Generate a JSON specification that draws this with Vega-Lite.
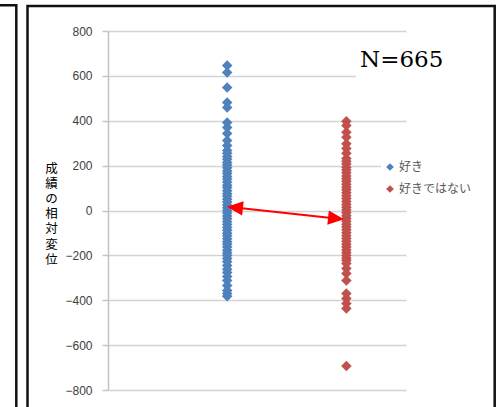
{
  "$schema": "https://vega.github.io/schema/vega-lite/v6.json",
  "width": 298,
  "height": 359,
  "autosize": {"type": "none"},
  "padding": {"left": 108, "top": 31, "right": 94, "bottom": 17},
  "background": "white",
  "config": {"view": {"stroke": null}, "font": "Liberation Sans"},
  "datasets": {
    "pts": [
      {"group": "好き", "x": 1, "value": 646},
      {"group": "好き", "x": 1, "value": 615},
      {"group": "好き", "x": 1, "value": 548},
      {"group": "好き", "x": 1, "value": 481},
      {"group": "好き", "x": 1, "value": 459},
      {"group": "好き", "x": 1, "value": 392},
      {"group": "好き", "x": 1, "value": 370},
      {"group": "好き", "x": 1, "value": 343},
      {"group": "好き", "x": 1, "value": 312},
      {"group": "好き", "x": 1, "value": 290},
      {"group": "好き", "x": 1, "value": 267},
      {"group": "好き", "x": 1, "value": 255},
      {"group": "好き", "x": 1, "value": 241},
      {"group": "好き", "x": 1, "value": 228},
      {"group": "好き", "x": 1, "value": 214},
      {"group": "好き", "x": 1, "value": 203},
      {"group": "好き", "x": 1, "value": 190},
      {"group": "好き", "x": 1, "value": 176},
      {"group": "好き", "x": 1, "value": 165},
      {"group": "好き", "x": 1, "value": 151},
      {"group": "好き", "x": 1, "value": 140},
      {"group": "好き", "x": 1, "value": 127},
      {"group": "好き", "x": 1, "value": 113},
      {"group": "好き", "x": 1, "value": 102},
      {"group": "好き", "x": 1, "value": 88},
      {"group": "好き", "x": 1, "value": 75},
      {"group": "好き", "x": 1, "value": 63},
      {"group": "好き", "x": 1, "value": 50},
      {"group": "好き", "x": 1, "value": 38},
      {"group": "好き", "x": 1, "value": 24},
      {"group": "好き", "x": 1, "value": 12},
      {"group": "好き", "x": 1, "value": 0},
      {"group": "好き", "x": 1, "value": -11},
      {"group": "好き", "x": 1, "value": -25},
      {"group": "好き", "x": 1, "value": -37},
      {"group": "好き", "x": 1, "value": -50},
      {"group": "好き", "x": 1, "value": -62},
      {"group": "好き", "x": 1, "value": -76},
      {"group": "好き", "x": 1, "value": -88},
      {"group": "好き", "x": 1, "value": -101},
      {"group": "好き", "x": 1, "value": -113},
      {"group": "好き", "x": 1, "value": -126},
      {"group": "好き", "x": 1, "value": -139},
      {"group": "好き", "x": 1, "value": -150},
      {"group": "好き", "x": 1, "value": -163},
      {"group": "好き", "x": 1, "value": -177},
      {"group": "好き", "x": 1, "value": -189},
      {"group": "好き", "x": 1, "value": -200},
      {"group": "好き", "x": 1, "value": -214},
      {"group": "好き", "x": 1, "value": -228},
      {"group": "好き", "x": 1, "value": -245},
      {"group": "好き", "x": 1, "value": -262},
      {"group": "好き", "x": 1, "value": -276},
      {"group": "好き", "x": 1, "value": -294},
      {"group": "好き", "x": 1, "value": -312},
      {"group": "好き", "x": 1, "value": -334},
      {"group": "好き", "x": 1, "value": -356},
      {"group": "好き", "x": 1, "value": -370},
      {"group": "好き", "x": 1, "value": -382},
      {"group": "好きではない", "x": 2, "value": 398},
      {"group": "好きではない", "x": 2, "value": 379},
      {"group": "好きではない", "x": 2, "value": 349},
      {"group": "好きではない", "x": 2, "value": 327},
      {"group": "好きではない", "x": 2, "value": 298},
      {"group": "好きではない", "x": 2, "value": 276},
      {"group": "好きではない", "x": 2, "value": 255},
      {"group": "好きではない", "x": 2, "value": 232},
      {"group": "好きではない", "x": 2, "value": 220},
      {"group": "好きではない", "x": 2, "value": 207},
      {"group": "好きではない", "x": 2, "value": 193},
      {"group": "好きではない", "x": 2, "value": 181},
      {"group": "好きではない", "x": 2, "value": 168},
      {"group": "好きではない", "x": 2, "value": 154},
      {"group": "好きではない", "x": 2, "value": 142},
      {"group": "好きではない", "x": 2, "value": 130},
      {"group": "好きではない", "x": 2, "value": 117},
      {"group": "好きではない", "x": 2, "value": 104},
      {"group": "好きではない", "x": 2, "value": 92},
      {"group": "好きではない", "x": 2, "value": 79},
      {"group": "好きではない", "x": 2, "value": 66},
      {"group": "好きではない", "x": 2, "value": 53},
      {"group": "好きではない", "x": 2, "value": 40},
      {"group": "好きではない", "x": 2, "value": 27},
      {"group": "好きではない", "x": 2, "value": 15},
      {"group": "好きではない", "x": 2, "value": 2},
      {"group": "好きではない", "x": 2, "value": -10},
      {"group": "好きではない", "x": 2, "value": -23},
      {"group": "好きではない", "x": 2, "value": -36},
      {"group": "好きではない", "x": 2, "value": -48},
      {"group": "好きではない", "x": 2, "value": -61},
      {"group": "好きではない", "x": 2, "value": -74},
      {"group": "好きではない", "x": 2, "value": -86},
      {"group": "好きではない", "x": 2, "value": -99},
      {"group": "好きではない", "x": 2, "value": -112},
      {"group": "好きではない", "x": 2, "value": -125},
      {"group": "好きではない", "x": 2, "value": -137},
      {"group": "好きではない", "x": 2, "value": -150},
      {"group": "好きではない", "x": 2, "value": -163},
      {"group": "好きではない", "x": 2, "value": -176},
      {"group": "好きではない", "x": 2, "value": -188},
      {"group": "好きではない", "x": 2, "value": -201},
      {"group": "好きではない", "x": 2, "value": -213},
      {"group": "好きではない", "x": 2, "value": -223},
      {"group": "好きではない", "x": 2, "value": -236},
      {"group": "好きではない", "x": 2, "value": -258},
      {"group": "好きではない", "x": 2, "value": -281},
      {"group": "好きではない", "x": 2, "value": -312},
      {"group": "好きではない", "x": 2, "value": -370},
      {"group": "好きではない", "x": 2, "value": -392},
      {"group": "好きではない", "x": 2, "value": -414},
      {"group": "好きではない", "x": 2, "value": -437},
      {"group": "好きではない", "x": 2, "value": -693}
    ]
  },
  "layer": [
    {
      "data": {"name": "pts"},
      "mark": {"type": "point", "shape": "diamond", "filled": true, "size": 110, "opacity": 1, "strokeWidth": 0},
      "encoding": {
        "x": {"field": "x", "type": "quantitative", "scale": {"domain": [0, 2.5], "nice": false, "zero": false}, "axis": null},
        "y": {
          "field": "value",
          "type": "quantitative",
          "scale": {"domain": [-800, 800], "nice": false, "zero": false},
          "axis": {
            "values": [-800, -600, -400, -200, 0, 200, 400, 600, 800],
            "grid": true,
            "gridColor": "#d4d4d4",
            "gridWidth": 1.5,
            "domainColor": "#c4c4c4",
            "domainWidth": 1.5,
            "tickColor": "#c4c4c4",
            "tickWidth": 1.5,
            "tickSize": 6,
            "labelPadding": 10,
            "labelFont": "Liberation Sans",
            "labelFontSize": 12,
            "labelColor": "#404040",
            "title": ["成", "績", "の", "相", "対", "変", "位"],
            "titleAngle": 0,
            "titleAlign": "center",
            "titleBaseline": "top",
            "titleX": -57,
            "titleY": 131,
            "titleFont": "Noto Sans CJK JP",
            "titleFontSize": 12.5,
            "titleFontWeight": "normal",
            "titleLineHeight": 15.2,
            "titleColor": "#000000"
          }
        },
        "color": {
          "field": "group",
          "type": "nominal",
          "scale": {"domain": ["好き", "好きではない"], "range": ["#4F81BD", "#C0504D"]},
          "legend": {
            "orient": "none",
            "legendX": 273,
            "legendY": 127,
            "title": null,
            "symbolType": "diamond",
            "symbolSize": 60,
            "symbolStrokeWidth": 0,
            "symbolOpacity": 1,
            "labelFont": "Noto Sans CJK JP",
            "labelFontSize": 12,
            "labelColor": "#595959",
            "labelOffset": 3,
            "rowPadding": 10,
            "padding": 3,
            "fillColor": "white"
          }
        }
      }
    },
    {
      "data": {"values": [{}]},
      "mark": {"type": "rect", "color": "white", "clip": false},
      "encoding": {
        "x": {"datum": 2.08, "type": "quantitative", "axis": null},
        "x2": {"datum": 2.51},
        "y": {"datum": 760, "type": "quantitative"},
        "y2": {"datum": 575}
      }
    },
    {
      "data": {"values": [{}]},
      "mark": {"type": "rect", "filled": false, "stroke": "#111111", "strokeWidth": 2.5, "clip": false},
      "encoding": {
        "x": {"datum": -0.6753, "type": "quantitative", "axis": null},
        "x2": {"datum": 3.2441},
        "y": {"datum": 911, "type": "quantitative"},
        "y2": {"datum": -978}
      }
    },
    {
      "data": {"values": [{}]},
      "mark": {"type": "rect", "filled": false, "stroke": "#111111", "strokeWidth": 2.5, "clip": false},
      "encoding": {
        "x": {"datum": -1.074, "type": "quantitative", "axis": null},
        "x2": {"datum": -0.7693},
        "y": {"datum": 915, "type": "quantitative"},
        "y2": {"datum": -978}
      }
    },
    {
      "data": {"values": [{}]},
      "mark": {"type": "rule", "color": "#ff0000", "strokeWidth": 2},
      "encoding": {
        "x": {"datum": 1.065, "type": "quantitative", "axis": null},
        "y": {"datum": 13.1, "type": "quantitative"},
        "x2": {"datum": 1.913},
        "y2": {"datum": -35.4}
      }
    },
    {
      "data": {"values": [{}]},
      "mark": {"type": "point", "shape": "M-1,0L1,-0.9L1,0.9Z", "size": 256, "angle": 6.15, "filled": true, "opacity": 1, "color": "#ff0000", "strokeWidth": 0},
      "encoding": {
        "x": {"datum": 1.065, "type": "quantitative", "axis": null},
        "y": {"datum": 13.1, "type": "quantitative"}
      }
    },
    {
      "data": {"values": [{}]},
      "mark": {"type": "point", "shape": "M1,0L-1,-0.9L-1,0.9Z", "size": 256, "angle": 6.15, "filled": true, "opacity": 1, "color": "#ff0000", "strokeWidth": 0},
      "encoding": {
        "x": {"datum": 1.913, "type": "quantitative", "axis": null},
        "y": {"datum": -35.4, "type": "quantitative"}
      }
    },
    {
      "data": {"values": [{}]},
      "mark": {"type": "text", "font": "DejaVu Serif", "fontSize": 23, "align": "center", "baseline": "alphabetic", "color": "#000000"},
      "encoding": {
        "x": {"datum": 2.464, "type": "quantitative", "axis": null},
        "y": {"datum": 638, "type": "quantitative"},
        "text": {"value": "N=665"}
      }
    }
  ]
}
